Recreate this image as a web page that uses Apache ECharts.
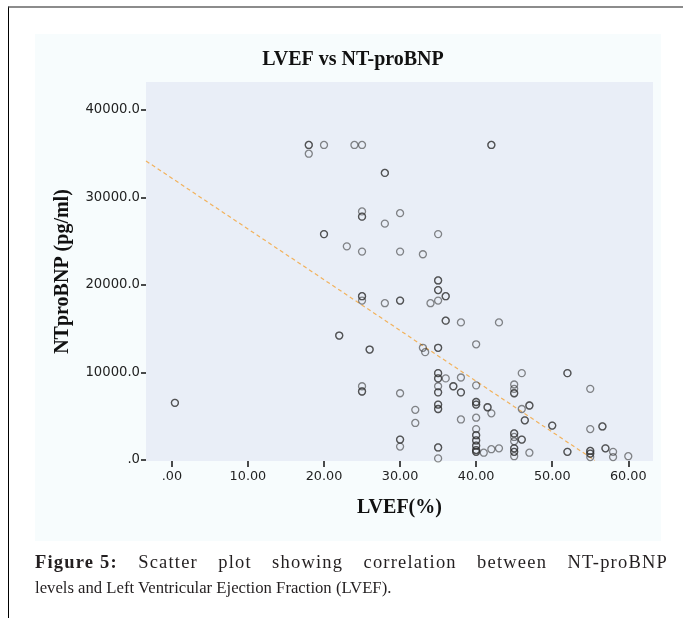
<!DOCTYPE html>
<html><head><meta charset="utf-8">
<script src="https://cdn.jsdelivr.net/npm/echarts@6/dist/echarts.min.js"></script>
<style>
html,body{margin:0;padding:0;background:#fff;width:683px;height:618px;overflow:hidden;}
#bg{position:absolute;left:35px;top:34px;width:626px;height:507px;background:#f7fcfd;}
#chart{position:absolute;left:0;top:0;width:683px;height:618px;}
#frame{position:absolute;left:8px;top:6px;width:675px;height:612px;border-left:1px solid #000;border-top:2px solid #8c8c8c;pointer-events:none;}
.cap{position:absolute;left:35px;width:633px;font-family:"Liberation Serif",serif;font-size:16.7px;color:#231f20;line-height:20px;white-space:nowrap;}
#cap1{top:552px;text-align:justify;text-align-last:justify;white-space:normal;font-size:18.5px;letter-spacing:1.2px;}
#cap1 b{display:inline-block;}
#cap2{top:578px;}
</style></head><body>
<div id="bg"></div>
<div id="chart"></div>
<div id="frame"></div>
<div class="cap" id="cap1"><b>Figure 5:</b> Scatter plot showing correlation between NT-proBNP</div>
<div class="cap" id="cap2">levels and Left Ventricular Ejection Fraction (LVEF).</div>
<script>
// LVEF (%) values, one per patient (overlapping duplicates listed twice)
const lvef = [
  18,18,18,20,24,25,
  28,28,25,25,25,30,28,
  20,20,23,25,30,42,42,
  35,33,
  25,25,25,28,30,30,
  22,22,26,26,25,25,25,30,
  0.4,0.4,30,30,30,
  35,35,35,35,36,36,35,34,
  36,36,38,43,33,33.3,35,35,40,
  35,35,35,35,36,38,35,35,35,
  37,37,38,38,40,46,52,52,
  45,45,45,45,55,
  35,35,35,35,32,32,
  40,40,40,40,41.5,41.5,42,38,40,
  46,47,47,46.4,46.4,50,50,55,56.6,56.6,
  40,40,40,40,40,40,40,40,40,40,40,
  41,42,43,
  45,45,45,45,46,46,45,45,45,45,45,
  47,52,52,55,55,55,55,55,
  57,57,58,58,60,
  35,35,35
];
// NT-proBNP (pg/ml) values, same order
const ntprobnp = [
  36000,36000,35000,36000,36000,36000,
  32800,32800,28400,27800,27800,28200,27000,
  25800,25800,24400,23800,23800,36000,36000,
  25800,23500,
  18700,18700,18200,17900,18200,18200,
  14200,14200,12600,12600,8400,7800,7800,7600,
  6500,6500,2300,2300,1500,
  20500,20500,19400,19400,18700,18700,18200,17900,
  15900,15900,15700,15700,12800,12300,12800,12800,13200,
  9900,9900,9300,9300,9300,9400,8400,7700,7700,
  8400,8400,7700,7700,8500,9900,9900,9900,
  8600,8100,7600,7600,8100,
  6300,6300,5800,5800,5700,4200,
  6600,6600,6300,6300,6000,6000,5300,4600,4800,
  5800,6200,6200,4500,4500,3900,3900,3500,3800,3800,
  3500,2800,2800,2200,2200,1600,1600,1100,1100,900,900,
  800,1200,1300,
  3000,3000,2600,2100,2300,2300,1300,1300,900,900,400,
  800,900,900,1000,1000,700,700,300,
  1300,1300,900,300,400,
  1400,1400,150
];
// Fit line end points
const fitLvef = [-3.4, 55.6];
const fitNt = [34170, -80];
// Tick values and labels
const xTickValues = [0,10,20,30,40,50,60];
const xTickLabels = ['.00','10.00','20.00','30.00','40.00','50.00','60.00'];
const yTickValues = [0,10000,20000,30000,40000];
const yTickLabels = ['.0','10000.0','20000.0','30000.0','40000.0'];

const chart = echarts.init(document.getElementById('chart'), null, {renderer:'canvas'});
const serif = '"Liberation Serif", "Times New Roman", serif';
const sans = '"DejaVu Sans", Verdana, sans-serif';
const option = {
  animation: false,
  title: {
    text: 'LVEF vs NT-proBNP', left: 348, top: 45, textAlign: 'center',
    textStyle: {fontFamily: serif, fontWeight: 'bold', fontSize: 20, color: '#111'}
  },
  grid: {left: 146, right: 30, top: 82, bottom: 157, show: true, backgroundColor: '#e9eef7', borderWidth: 0},
  xAxis: {
    type: 'value', min: -3.4, max: 63.25,
    name: 'LVEF(%)', nameLocation: 'middle', nameGap: 37,
    nameTextStyle: {fontFamily: serif, fontWeight: 'bold', fontSize: 20, color: '#111'},
    axisLine: {show: false, onZero: false},
    splitLine: {show: false},
    axisTick: {show: true, length: 6, customValues: xTickValues, lineStyle: {color: '#111', width: 1.5}},
    axisLabel: {customValues: xTickValues, margin: 9, fontFamily: sans, fontSize: 12.8, color: '#222',
      formatter: v => xTickLabels[xTickValues.indexOf(v)]}
  },
  yAxis: {
    type: 'value', min: -150, max: 43200,
    name: 'NTproBNP (pg/ml)', nameLocation: 'middle', nameGap: 73,
    nameTextStyle: {fontFamily: serif, fontWeight: 'bold', fontSize: 20, color: '#111'},
    axisLine: {show: false, onZero: false},
    splitLine: {show: false},
    axisTick: {show: true, length: 5, customValues: yTickValues, lineStyle: {color: '#111', width: 1.5}},
    axisLabel: {customValues: yTickValues, margin: 6, fontFamily: sans, fontSize: 13.2, color: '#222',
      formatter: v => yTickLabels[yTickValues.indexOf(v)]}
  },
  series: [
    {
      type: 'line', data: fitLvef.map((x, i) => [x, fitNt[i]]), symbol: 'none', clip: true,
      lineStyle: {color: '#f2b25c', width: 1.2, type: [4, 3]}, z: 1, silent: true
    },
    {
      type: 'scatter', data: lvef.map((x, i) => [x, ntprobnp[i]]), symbol: 'circle', symbolSize: 7,
      itemStyle: {color: 'rgba(0,0,0,0)', borderColor: 'rgba(45,45,45,0.7)', borderWidth: 1.3}, z: 2
    }
  ]
};
chart.setOption(option);
</script>
</body></html>
